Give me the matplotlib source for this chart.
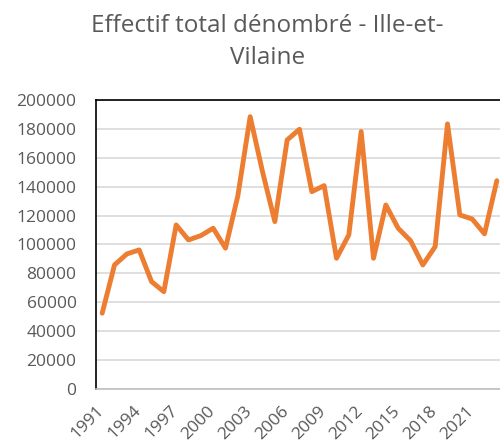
import matplotlib.pyplot as plt
import matplotlib.transforms as mtransforms

# yearly counts, 1991 - 2023
years = list(range(1991, 2024))
effectif = [52400, 85800, 93400, 96200, 74300, 67300, 113500, 103100, 106100, 111200,
            97400, 133600, 188400, 150400, 115800, 172300, 179700, 136500, 140700, 90400,
            106600, 178100, 90400, 127300, 111200, 102600, 85800, 98500, 183400, 120400,
            117600, 107300, 144100]
tick_years = list(range(1991, 2024, 3))
title_lines = ["Effectif total dénombré - Ille-et-", "Vilaine"]

plt.rcParams['font.family'] = ['Open Sans', 'DejaVu Sans']
grey = "#595959"

fig = plt.figure(figsize=(5, 4.44), dpi=100)
ax = fig.add_axes([0.192, 0.124, 0.814, 0.651])

x = list(range(len(years)))
ax.plot(x, effectif, color="#ED7D31", linewidth=3.5, solid_joinstyle="round",
        solid_capstyle="round", zorder=3)

ax.set_xlim(-0.5, len(years) - 0.5)
ax.set_ylim(0, 200000)
ax.set_yticks(range(0, 200001, 20000))
ax.set_yticklabels([str(v) for v in range(0, 200001, 20000)], fontsize=12.5, color=grey)
ax.grid(axis="y", color="#d9d9d9", linewidth=1.2, zorder=0)

ax.set_xticks([years.index(y) for y in tick_years])
ax.set_xticklabels([str(y) for y in tick_years], rotation=45, ha="right", va="top",
                   fontsize=12.5, color=grey)
ax.tick_params(axis="y", length=0, pad=14)
ax.tick_params(axis="x", length=0, pad=10)
# nudge the rotated year labels a little to the right, as in the original
shift = mtransforms.ScaledTranslation(5 / 100, 0, fig.dpi_scale_trans)
for lab in ax.get_xticklabels():
    lab.set_transform(lab.get_transform() + shift)

for s in ["top", "left"]:
    ax.spines[s].set_color("black")
    ax.spines[s].set_linewidth(1.2)
ax.spines["bottom"].set_color("#bfbfbf")
ax.spines["bottom"].set_linewidth(1.2)
ax.spines["right"].set_visible(False)

fig.text(0.535, 0.928, title_lines[0], ha="center", va="baseline", fontsize=17.5, color=grey)
fig.text(0.535, 0.856, title_lines[1], ha="center", va="baseline", fontsize=17.5, color=grey)

fig.savefig("out.png", dpi=100)
